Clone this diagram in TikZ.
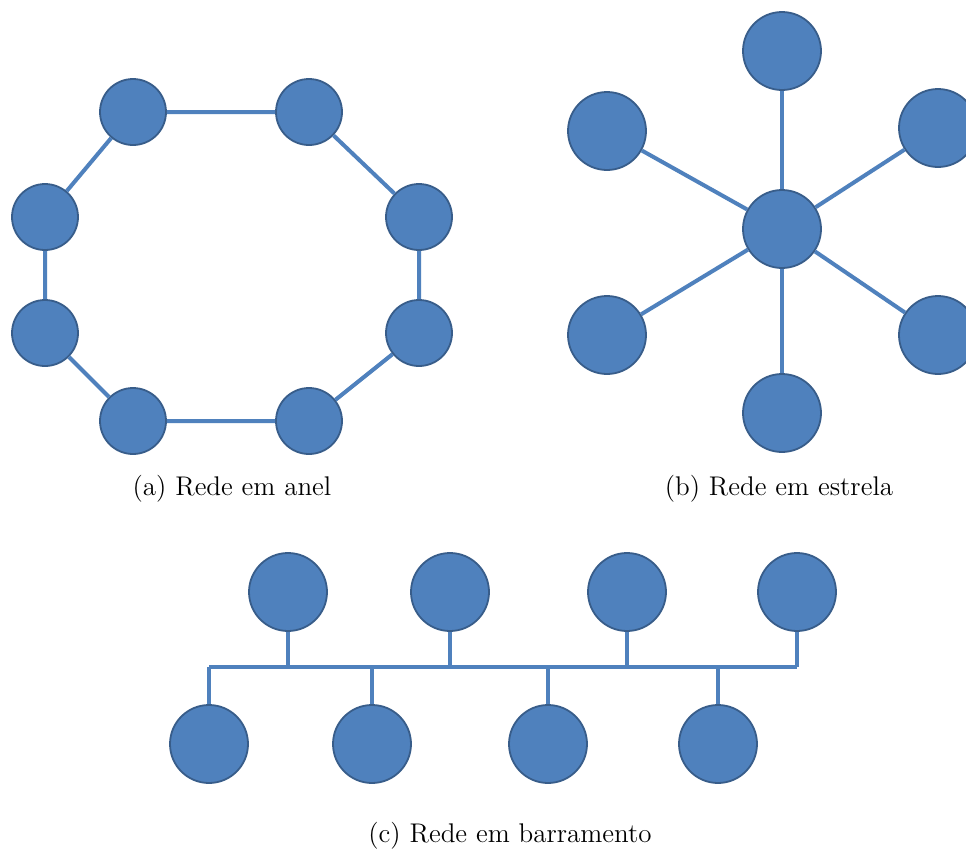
\documentclass[tikz,border=0pt]{standalone}
\usepackage{tikz}
\usetikzlibrary{positioning}
\definecolor{netblue}{RGB}{79,129,189}
\definecolor{netedge}{RGB}{56,93,138}
\tikzset{
  ringnode/.style={
      circle,
      draw=netedge,
      fill=netblue,
      line width=0.9pt,
      minimum size=33pt,
      inner sep=0pt,
  },
  bignode/.style={
      ringnode,
      minimum size=39pt,
  },
  link/.style={
      draw=netblue,
      line width=2pt,
  },
  legenda/.style={
      font=\fontsize{13.5}{16}\selectfont,
      inner sep=0pt,
  }
}
\begin{document}
\begin{tikzpicture}[x=0.5pt,y=-0.5pt]
  \clip (0,0) rectangle (966,848);
  \fill[white] (0,0) rectangle (966,848);
  % anel
  \node[ringnode](a1) at (133,112){};
  \node[ringnode](a2) at (309,112){};
  \node[ringnode](a3) at (419,217){};
  \node[ringnode](a4) at (419,333){};
  \node[ringnode](a5) at (309,421){};
  \node[ringnode](a6) at (133,421){};
  \node[ringnode](a7) at (45,333){};
  \node[ringnode](a8) at (45,217){};
  \draw[link] (a1) -- (a2) -- (a3) -- (a4) -- (a5) -- (a6) -- (a7) -- (a8) -- (a1);
  \node[legenda](la) at (232,489) {(a) Rede em anel};
  % estrela
  \node[bignode](ec) at (782,229){};
  \node[bignode](e1) at (782,51){};
  \node[bignode](e2) at (938,128){};
  \node[bignode](e3) at (938,335){};
  \node[bignode](e4) at (782,413){};
  \node[bignode](e5) at (607,335){};
  \node[bignode](e6) at (607,131){};
  \draw[link] (ec) -- (e1);
  \draw[link] (ec) -- (e2);
  \draw[link] (ec) -- (e3);
  \draw[link] (ec) -- (e4);
  \draw[link] (ec) -- (e5);
  \draw[link] (ec) -- (e6);
  \node[legenda](lb) at (779,489) {(b) Rede em estrela};
  % barramento
  \node[bignode](t1) at (288,592){};
  \node[bignode](t2) at (450,592){};
  \node[bignode](t3) at (627,592){};
  \node[bignode](t4) at (797,592){};
  \node[bignode](b1) at (209,744){};
  \node[bignode](b2) at (372,744){};
  \node[bignode](b3) at (548,744){};
  \node[bignode](b4) at (718,744){};
  \coordinate (busl) at (209,667);
  \coordinate (busr) at (797,667);
  \draw[link] (busl) -- (busr);
  \draw[link] (t1) -- (t1 |- busl);
  \draw[link] (t2) -- (t2 |- busl);
  \draw[link] (t3) -- (t3 |- busl);
  \draw[link] (t4) -- (busr);
  \draw[link] (b1) -- (busl);
  \draw[link] (b2) -- (b2 |- busl);
  \draw[link] (b3) -- (b3 |- busl);
  \draw[link] (b4) -- (b4 |- busl);
  \node[legenda](lc) at (510,836) {(c) Rede em barramento};
\end{tikzpicture}
\end{document}
